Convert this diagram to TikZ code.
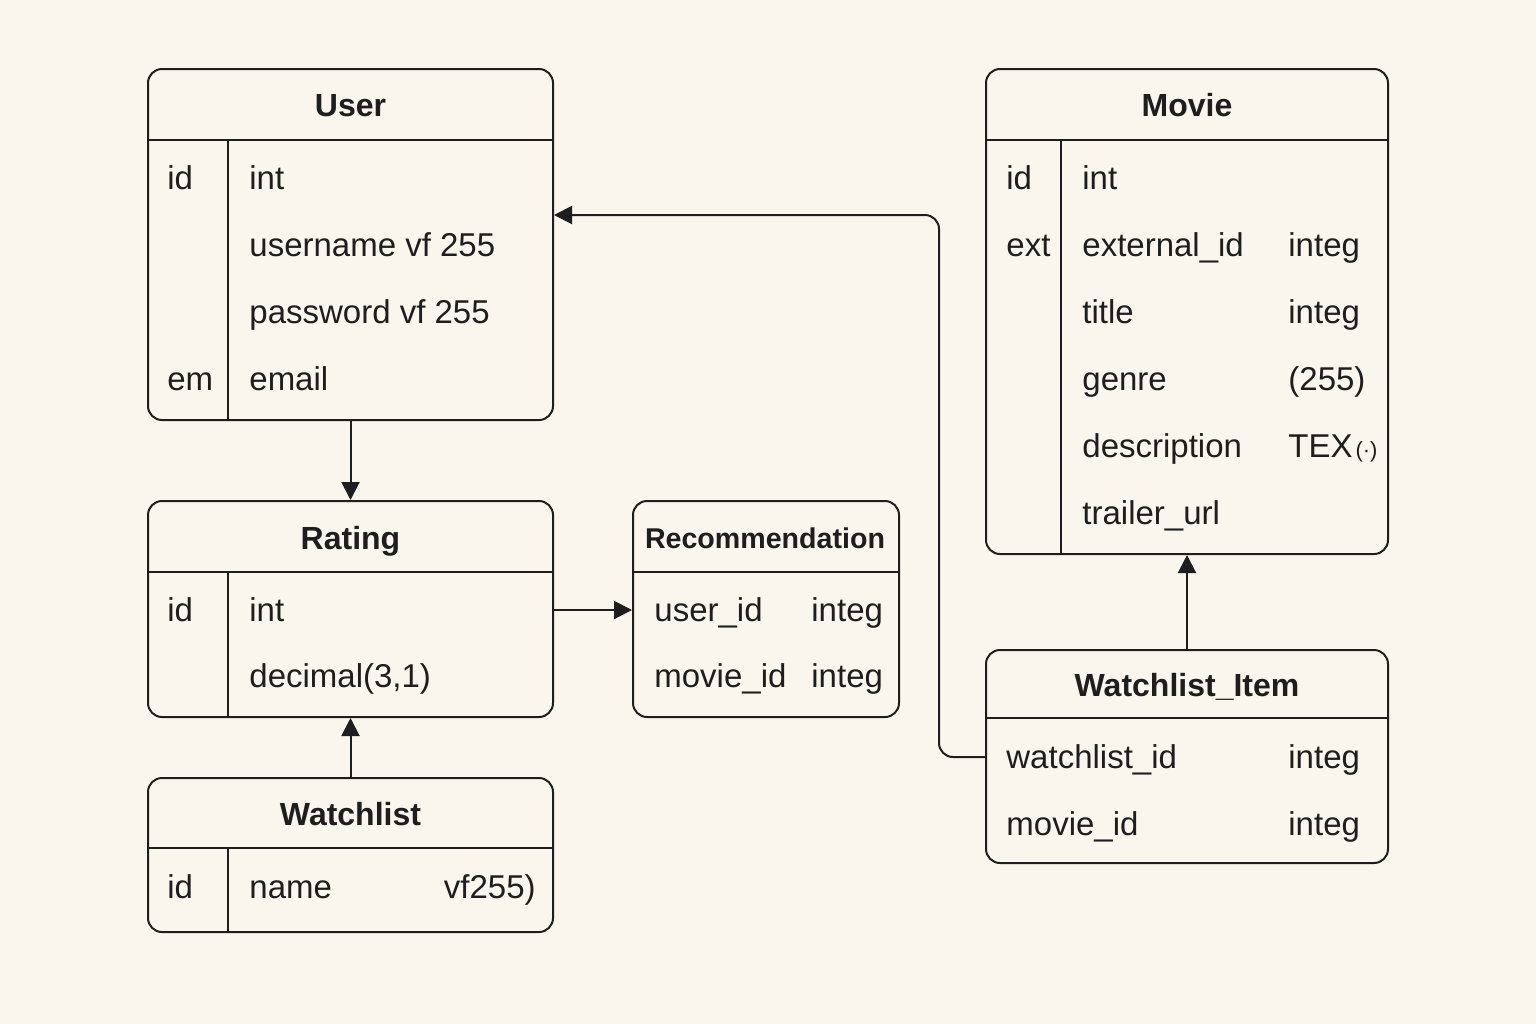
\documentclass[tikz,border=0pt]{standalone}
\usepackage{fontspec}
\setmainfont{Liberation Sans}
\usetikzlibrary{arrows.meta}
\definecolor{bg}{HTML}{FAF6EE}
\definecolor{ink}{HTML}{1E1E1E}
\begin{document}
\begin{tikzpicture}[x=0.5pt,y=-0.5pt,
 box/.style={draw=ink, line width=1pt, rounded corners=7pt, fill=bg, inner sep=0pt},
 sepline/.style={draw=ink, line width=0.9pt},
 ttl/.style={anchor=base, font=\fontsize{16}{19}\selectfont\bfseries, text=ink, inner sep=0pt},
 fld/.style={anchor=base west, font=\fontsize{16.5}{19}\selectfont, text=ink, inner sep=0pt},
 conn/.style={draw=ink, line width=1pt, -{Triangle[length=9pt,width=9pt]}}]
\fill[bg] (0,0) rectangle (1536,1024);
\useasboundingbox (0,0) rectangle (1536,1024);

% User
\node[box, minimum width=202.5pt, minimum height=175.5pt] (user) at (350.5,244.5) {};
\draw[sepline] (148,140) -- (553,140);
\draw[sepline] (228,140) -- (228,420);
\node[ttl] (userT) at (350.5,116) {User};
\node[fld] (u1a) at (167,189) {id};
\node[fld] (u1b) at (249,189) {int};
\node[fld] (u2b) at (249,256) {username vf 255};
\node[fld] (u3b) at (249,323) {password vf 255};
\node[fld] (u4a) at (167,390) {em};
\node[fld] (u4b) at (249,390) {email};

% Rating
\node[box, minimum width=202.5pt, minimum height=108pt] (rating) at (350.5,609) {};
\draw[sepline] (148,572) -- (553,572);
\draw[sepline] (228,572) -- (228,717);
\node[ttl] (ratingT) at (350.5,549) {Rating};
\node[fld] (r1a) at (167,621) {id};
\node[fld] (r1b) at (249,621) {int};
\node[fld] (r2b) at (249,687) {decimal(3,1)};

% Watchlist
\node[box, minimum width=202.5pt, minimum height=77pt] (watch) at (350.5,855) {};
\draw[sepline] (148,848) -- (553,848);
\draw[sepline] (228,848) -- (228,932);
\node[ttl] (watchT) at (350.5,825) {Watchlist};
\node[fld] (w1a) at (167,898) {id};
\node[fld] (w1b) at (249,898) {name};
\node[fld, anchor=base east] (w1c) at (536,898) {vf255)};

% Recommendation
\node[box, minimum width=133pt, minimum height=108pt] (rec) at (766,609) {};
\draw[sepline] (633,572) -- (899,572);
\node[ttl, font=\fontsize{14.3}{17}\selectfont\bfseries] (recT) at (765,548) {Recommendation};
\node[fld] (c1a) at (654,621) {user\_id};
\node[fld] (c1b) at (811,621) {integ};
\node[fld] (c2a) at (654,687) {movie\_id};
\node[fld] (c2b) at (811,687) {integ};

% Movie
\node[box, minimum width=201pt, minimum height=242.5pt] (movie) at (1187,311.5) {};
\draw[sepline] (986,140) -- (1388,140);
\draw[sepline] (1061,140) -- (1061,554);
\node[ttl] (movieT) at (1187,116) {Movie};
\node[fld] (m1a) at (1006,189) {id};
\node[fld] (m1b) at (1082,189) {int};
\node[fld] (m2a) at (1006,256) {ext};
\node[fld] (m2b) at (1082,256) {external\_id};
\node[fld] (m2c) at (1288,256) {integ};
\node[fld] (m3b) at (1082,323) {title};
\node[fld] (m3c) at (1288,323) {integ};
\node[fld] (m4b) at (1082,390) {genre};
\node[fld] (m4c) at (1288,390) {(255)};
\node[fld] (m5b) at (1082,457) {description};
\node[fld] (m5c) at (1288,457) {TEX\kern1.5pt{\fontsize{11}{13}\selectfont(·)}};
\node[fld] (m6b) at (1082,524) {trailer\_url};

% Watchlist_Item
\node[box, minimum width=201pt, minimum height=106.5pt] (wli) at (1187,756.5) {};
\draw[sepline] (986,718) -- (1388,718);
\node[ttl] (wliT) at (1187,696) {Watchlist\_Item};
\node[fld] (i1a) at (1006,768) {watchlist\_id};
\node[fld] (i1c) at (1288,768) {integ};
\node[fld] (i2a) at (1006,835) {movie\_id};
\node[fld] (i2c) at (1288,835) {integ};

% connectors
\coordinate (rrow) at (0,610);
\coordinate (wrow) at (0,757);
\coordinate (urow) at (0,215);
\coordinate (bend) at (939,0);
\draw[conn] (user.south) -- (rating.north);
\draw[conn] (watch.north) -- (rating.south);
\draw[conn] (rating.east |- rrow) -- (rec.west |- rrow);
\draw[conn] (wli.north) -- (movie.south);
\draw[conn, rounded corners=7pt] (wli.west |- wrow) -- (bend |- wrow) -- (bend |- urow) -- (user.east |- urow);
\end{tikzpicture}
\end{document}
